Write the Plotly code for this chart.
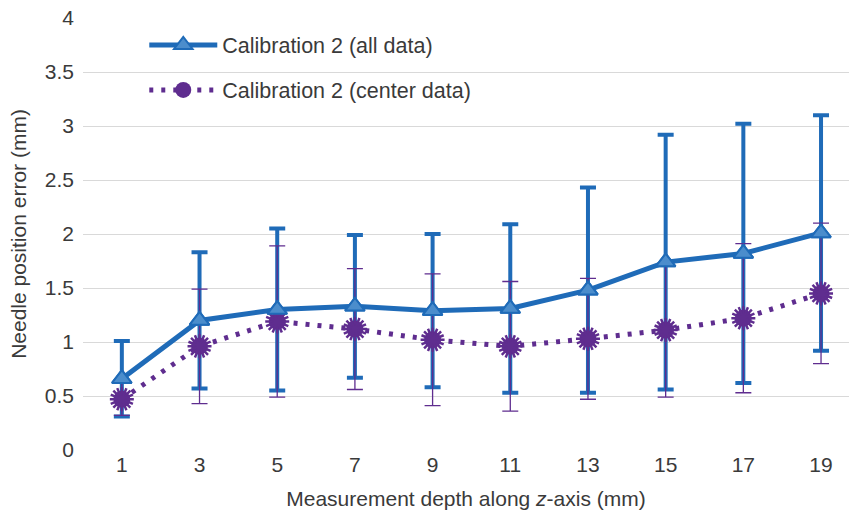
import plotly.graph_objects as go

# Measurement depth along z-axis (mm)
depth = [1, 3, 5, 7, 9, 11, 13, 15, 17, 19]

# Calibration 2, all data: mean error and standard deviation (mm)
all_mean = [0.66, 1.20, 1.30, 1.33, 1.29, 1.31, 1.48, 1.74, 1.82, 2.01]
all_sd = [0.35, 0.63, 0.75, 0.66, 0.71, 0.78, 0.95, 1.18, 1.20, 1.09]

# Calibration 2, center data: mean error and standard deviation (mm)
center_mean = [0.47, 0.96, 1.19, 1.12, 1.02, 0.96, 1.03, 1.11, 1.22, 1.45]
center_sd = [0.15, 0.53, 0.70, 0.56, 0.61, 0.60, 0.56, 0.62, 0.69, 0.65]

y_ticks = [0, 0.5, 1, 1.5, 2, 2.5, 3, 3.5, 4]
y_tick_text = ["0", "0.5", "1", "1.5", "2", "2.5", "3", "3.5", "4"]

BLUE = "#1f6bb8"
BLUE_FILL = "#4b8dcc"
PURPLE = "#5f2d8f"
TEXT = "#3a3a3a"
FONT = "Liberation Sans, Arial, sans-serif"

fig = go.Figure()

fig.add_trace(go.Scatter(
    x=depth, y=all_mean, name="Calibration 2 (all data)",
    legendgroup="all", mode="lines+markers",
    line=dict(color=BLUE, width=5),
    marker=dict(symbol="triangle-up", size=17, color=BLUE_FILL,
                line=dict(color=BLUE, width=2)),
    error_y=dict(type="data", array=all_sd, visible=True,
                 color=BLUE, thickness=4, width=8),
))

fig.add_trace(go.Scatter(
    x=depth, y=center_mean, name="Calibration 2 (center data)",
    legendgroup="center", mode="lines+markers",
    line=dict(color=PURPLE, width=5, dash="4px,8px"),
    marker=dict(symbol="circle", size=17, color=PURPLE, line=dict(width=0)),
    error_y=dict(type="data", array=center_sd, visible=True,
                 color=PURPLE, thickness=1.3, width=8),
))

# ragged rim of the center-data markers: two crossed asterisks
for rim_angle in (0, 22.5):
    fig.add_trace(go.Scatter(
        x=depth, y=center_mean, mode="markers", showlegend=False,
        hoverinfo="skip",
        marker=dict(symbol="asterisk-open", size=20, angle=rim_angle,
                    color=PURPLE, line=dict(color=PURPLE, width=2.5)),
    ))

# keep the triangles above the thin error bars
fig.add_trace(go.Scatter(
    x=depth, y=all_mean, mode="markers", showlegend=False, hoverinfo="skip",
    marker=dict(symbol="triangle-up", size=17, color=BLUE_FILL,
                line=dict(color=BLUE, width=2)),
))

fig.update_layout(
    width=849, height=514,
    margin=dict(l=83, r=0, t=18, b=64),
    paper_bgcolor="white", plot_bgcolor="white",
    font=dict(family=FONT, size=21, color=TEXT),
    showlegend=True,
    legend=dict(x=0.08, y=0.985, xanchor="left", yanchor="top",
                bgcolor="rgba(0,0,0,0)", itemwidth=68,
                tracegroupgap=14, traceorder="grouped",
                font=dict(family=FONT, size=21.5, color=TEXT)),
    xaxis=dict(
        range=[0, 19.72], tickmode="array", tickvals=depth,
        ticktext=[str(d) for d in depth],
        showgrid=False, zeroline=False, showline=False, ticks="",
        tickfont=dict(size=21, color=TEXT),
        title=dict(text="Measurement depth along <i>z</i>-axis (mm)",
                   font=dict(size=21, color=TEXT), standoff=16),
    ),
    yaxis=dict(
        range=[0, 4], tickmode="array", tickvals=y_ticks, ticktext=y_tick_text,
        showgrid=True, gridcolor="#d9d9d9", gridwidth=1.3,
        zeroline=False, showline=False, ticks="",
        ticklabelstandoff=8,
        tickfont=dict(size=21, color=TEXT),
        title=dict(text="Needle position error (mm)",
                   font=dict(size=21, color=TEXT), standoff=12),
    ),
)

fig.write_html("out.html")
